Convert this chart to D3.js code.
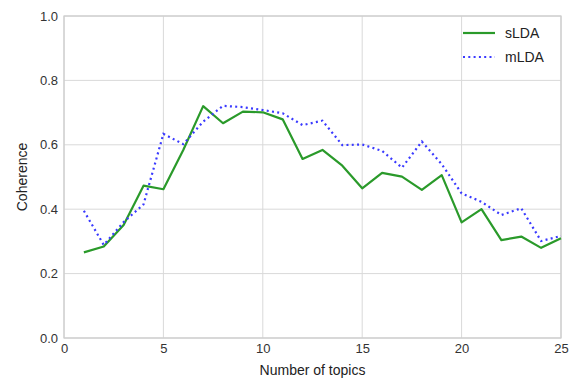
<!DOCTYPE html>
<html><head><meta charset="utf-8">
<script src="https://cdn.jsdelivr.net/npm/d3@7/dist/d3.min.js"></script>
<style>
body{margin:0;background:#fff;}
text{font-family:"Liberation Sans Narrow","Liberation Sans",Arial,sans-serif;}
</style></head>
<body><svg id="c" width="570" height="381"></svg>
<script>
const topics = d3.range(1, 26);
const sLDA = [0.266,0.284,0.351,0.473,0.462,0.584,0.720,0.667,0.703,0.701,0.679,0.556,0.584,0.535,0.465,0.513,0.501,0.460,0.506,0.359,0.400,0.304,0.315,0.280,0.310];
const mLDA = [0.395,0.289,0.360,0.415,0.634,0.602,0.672,0.721,0.717,0.708,0.698,0.661,0.675,0.599,0.601,0.581,0.529,0.610,0.540,0.449,0.423,0.382,0.403,0.301,0.317];
const xTicks = [0,5,10,15,20,25];
const yTicks = [0,0.2,0.4,0.6,0.8,1.0];
const seriesNames = ["sLDA","mLDA"];

const svg = d3.select("#c");
const L=64, R=561, T=16, B=338;
const x = d3.scaleLinear().domain([0,25]).range([L,R]);
const y = d3.scaleLinear().domain([0,1]).range([B,T]);

const grid = svg.append("g");
grid.selectAll(".gx").data(xTicks).enter().append("line")
  .attr("x1",d=>x(d)).attr("x2",d=>x(d)).attr("y1",T).attr("y2",B)
  .attr("stroke","#d9d9d9").attr("stroke-width",1);
grid.selectAll(".gy").data(yTicks).enter().append("line")
  .attr("y1",d=>y(d)).attr("y2",d=>y(d)).attr("x1",L).attr("x2",R)
  .attr("stroke","#d9d9d9").attr("stroke-width",1);
svg.append("rect").attr("x",L).attr("y",T).attr("width",R-L).attr("height",B-T)
  .attr("fill","none").attr("stroke","#cccccc").attr("stroke-width",1.2);

const xa = svg.append("g").attr("transform",`translate(0,${B})`)
  .call(d3.axisBottom(x).tickValues(xTicks).tickSize(0).tickPadding(6).tickFormat(d3.format("d")));
const ya = svg.append("g").attr("transform",`translate(${L},0)`)
  .call(d3.axisLeft(y).tickValues(yTicks).tickSize(0).tickPadding(6).tickFormat(d3.format(".1f")));
[xa,ya].forEach(a=>{a.select(".domain").remove();
  a.selectAll("text").attr("font-size",13).attr("fill","#333")
   .attr("font-family","'Liberation Sans Narrow','Liberation Sans',sans-serif");});

const line = d3.line().x((d,i)=>x(topics[i])).y(d=>y(d));
svg.append("path").datum(sLDA).attr("d",line).attr("fill","none")
  .attr("stroke","#2a9a2a").attr("stroke-width",2.2).attr("stroke-linejoin","round");
svg.append("path").datum(mLDA).attr("d",line).attr("fill","none")
  .attr("stroke","#3a3aff").attr("stroke-width",2.2).attr("stroke-dasharray","2,3.3");

// legend
const lg = svg.append("g");
lg.append("line").attr("x1",463).attr("x2",495).attr("y1",33).attr("y2",33)
  .attr("stroke","#2a9a2a").attr("stroke-width",2.2);
lg.append("line").attr("x1",463).attr("x2",495).attr("y1",57).attr("y2",57)
  .attr("stroke","#3a3aff").attr("stroke-width",2.2).attr("stroke-dasharray","2,3.3");
lg.selectAll("text").data(seriesNames).enter().append("text")
  .attr("x",505).attr("y",(d,i)=>33+i*24+5).attr("font-size",14).attr("fill","#222").text(d=>d);

svg.append("text").attr("x",(L+R)/2).attr("y",375).attr("text-anchor","middle")
  .attr("font-size",14).attr("fill","#222").text("Number of topics");
svg.append("text").attr("transform",`translate(27,${(T+B)/2}) rotate(-90)`).attr("text-anchor","middle")
  .attr("font-size",14).attr("fill","#222").text("Coherence");
</script></body></html>
